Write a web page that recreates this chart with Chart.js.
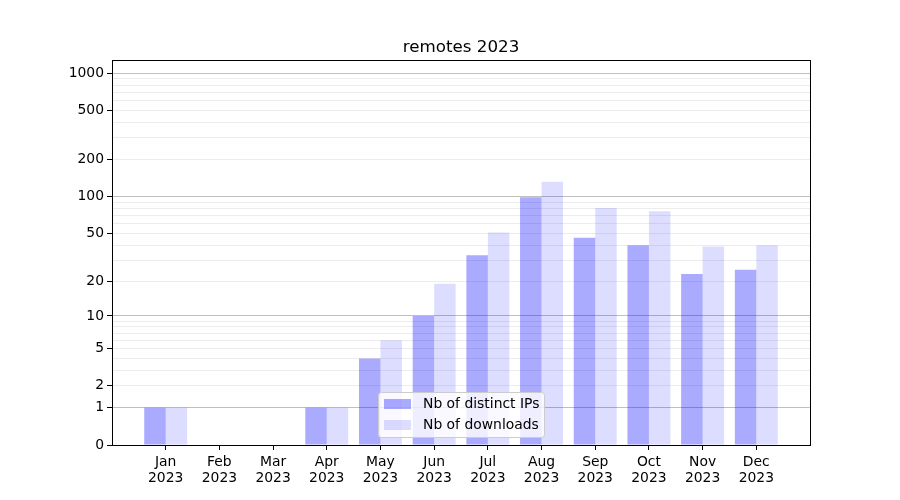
<!DOCTYPE html>
<html>
<head>
<meta charset="utf-8">
<script src="https://cdn.jsdelivr.net/npm/chart.js@4/dist/chart.umd.min.js"></script>
<style>
  html, body { margin: 0; padding: 0; background: #ffffff; }
  canvas { display: block; }
</style>
</head>
<body>
<canvas id="c" width="900" height="500"></canvas>
<script>
// ---- data ----
const title = 'remotes 2023';
const months = ['Jan', 'Feb', 'Mar', 'Apr', 'May', 'Jun', 'Jul', 'Aug', 'Sep', 'Oct', 'Nov', 'Dec'];
const year = '2023';
const distinctIPs = [1, 0, 0, 1, 4, 10, 33, 99, 46, 40, 23, 25];
const downloads   = [1, 0, 0, 1, 6, 19, 51, 132, 81, 76, 39, 40];
const yTickLabels = [0, 1, 2, 5, 10, 20, 50, 100, 200, 500, 1000];
const yMajorGrid  = [1, 10, 100, 1000];
const yMinorGrid  = [2, 3, 4, 5, 6, 7, 8, 9, 20, 30, 40, 50, 60, 70, 80, 90, 200, 300, 400, 500, 600, 700, 800, 900];
const yMax = 1280;

// ---- log10(1+x) scale ----
const fwd = v => Math.log10(1 + v);
const inv = t => Math.pow(10, t) - 1;

class Log1pScale extends Chart.Scale {
  determineDataLimits() {
    this.min = this.options.min != null ? this.options.min : 0;
    this.max = this.options.max != null ? this.options.max : 1000;
  }
  buildTicks() {
    const vals = Array.from(new Set([0, ...yTickLabels, ...yMajorGrid, ...yMinorGrid])).sort((a, b) => a - b);
    return vals.filter(v => v >= this.min && v <= this.max).map(v => ({ value: v }));
  }
  getLabelForValue(v) { return String(v); }
  configure() {
    super.configure();
    this._s = fwd(this.min);
    this._r = fwd(this.max) - this._s;
  }
  getPixelForValue(v) {
    if (v == null || isNaN(v)) return NaN;
    return this.getPixelForDecimal((fwd(v) - this._s) / this._r);
  }
  getValueForPixel(p) {
    return inv(this.getDecimalForPixel(p) * this._r + this._s);
  }
}
Log1pScale.id = 'log1p';
Log1pScale.defaults = {};
Chart.register(Log1pScale);

const FONT = 'DejaVu Sans';
const labels = ['', ...months.map(m => [m, year]), ''];
const pad = arr => [null, ...arr, null];

const framePlugin = {
  id: 'frameTitleLegend',
  afterDraw(chart) {
    const { ctx, chartArea: a } = chart;
    ctx.save();
    // frame
    ctx.strokeStyle = '#000000';
    ctx.lineWidth = 1;
    ctx.strokeRect(Math.round(a.left) + 0.5, Math.round(a.top) + 0.5, Math.round(a.right - a.left), Math.round(a.bottom - a.top));
    // title
    ctx.fillStyle = '#000000';
    ctx.font = '16.7px "' + FONT + '"';
    ctx.textAlign = 'center';
    ctx.textBaseline = 'alphabetic';
    ctx.fillText(title, (a.left + a.right) / 2, 52);
    // legend
    const ds = chart.data.datasets;
    const bx = 378.5, by = 392.5, bw = 166, bh = 45, r = 3;
    ctx.beginPath();
    ctx.moveTo(bx + r, by);
    ctx.lineTo(bx + bw - r, by);
    ctx.arcTo(bx + bw, by, bx + bw, by + r, r);
    ctx.lineTo(bx + bw, by + bh - r);
    ctx.arcTo(bx + bw, by + bh, bx + bw - r, by + bh, r);
    ctx.lineTo(bx + r, by + bh);
    ctx.arcTo(bx, by + bh, bx, by + bh - r, r);
    ctx.lineTo(bx, by + r);
    ctx.arcTo(bx, by, bx + r, by, r);
    ctx.closePath();
    ctx.fillStyle = 'rgba(255,255,255,0.8)';
    ctx.fill();
    ctx.strokeStyle = '#cccccc';
    ctx.stroke();
    ctx.font = '13.9px "' + FONT + '"';
    ctx.textAlign = 'left';
    ctx.textBaseline = 'middle';
    ds.forEach((d, i) => {
      const y = 404 + i * 21;
      ctx.fillStyle = d.backgroundColor;
      ctx.fillRect(384, y - 5, 27, 10);
      ctx.fillStyle = '#000000';
      ctx.fillText(d.label, 423, y);
    });
    ctx.restore();
  }
};

new Chart(document.getElementById('c'), {
  type: 'bar',
  data: {
    labels: labels,
    datasets: [
      { label: 'Nb of distinct IPs', data: pad(distinctIPs), backgroundColor: 'rgba(0,0,255,0.333)', borderWidth: 0 },
      { label: 'Nb of downloads', data: pad(downloads), backgroundColor: 'rgba(0,0,255,0.133)', borderWidth: 0 }
    ]
  },
  options: {
    responsive: false,
    animation: false,
    devicePixelRatio: 1,
    layout: { padding: { left: 0, top: 60, right: 90, bottom: 0 } },
    datasets: { bar: { barPercentage: 1.0, categoryPercentage: 0.8 } },
    plugins: {
      legend: { display: false },
      title: { display: false },
      tooltip: { enabled: false }
    },
    scales: {
      x: {
        type: 'category',
        offset: false,
        border: { display: false },
        grid: {
          offset: false,
          drawOnChartArea: false,
          drawTicks: true,
          tickLength: 5,
          tickWidth: 1,
          tickColor: c => (c.index === 0 || c.index === labels.length - 1) ? 'rgba(0,0,0,0)' : '#000000'
        },
        ticks: {
          autoSkip: false,
          maxRotation: 0,
          minRotation: 0,
          padding: 4,
          color: '#000000',
          font: { family: FONT, size: 13.9, lineHeight: 1.15 }
        },
        afterFit: s => { s.height = 55; }
      },
      y: {
        type: 'log1p',
        min: 0,
        max: yMax,
        border: { display: false },
        grid: {
          lineWidth: 1,
          color: c => {
            const v = c.tick ? c.tick.value : 0;
            if (yMajorGrid.includes(v)) return 'rgba(128,128,128,0.5)';
            if (yMinorGrid.includes(v)) return 'rgba(128,128,128,0.15)';
            return 'rgba(0,0,0,0)';
          },
          drawTicks: true,
          tickLength: 5,
          tickWidth: 1,
          tickColor: c => (c.tick && yTickLabels.includes(c.tick.value)) ? '#000000' : 'rgba(0,0,0,0)'
        },
        ticks: {
          autoSkip: false,
          padding: 3,
          color: '#000000',
          font: { family: FONT, size: 13.9 },
          callback: v => yTickLabels.includes(v) ? String(v) : ''
        },
        afterFit: s => { s.width = 112; }
      }
    }
  },
  plugins: [framePlugin]
});
</script>
</body>
</html>
